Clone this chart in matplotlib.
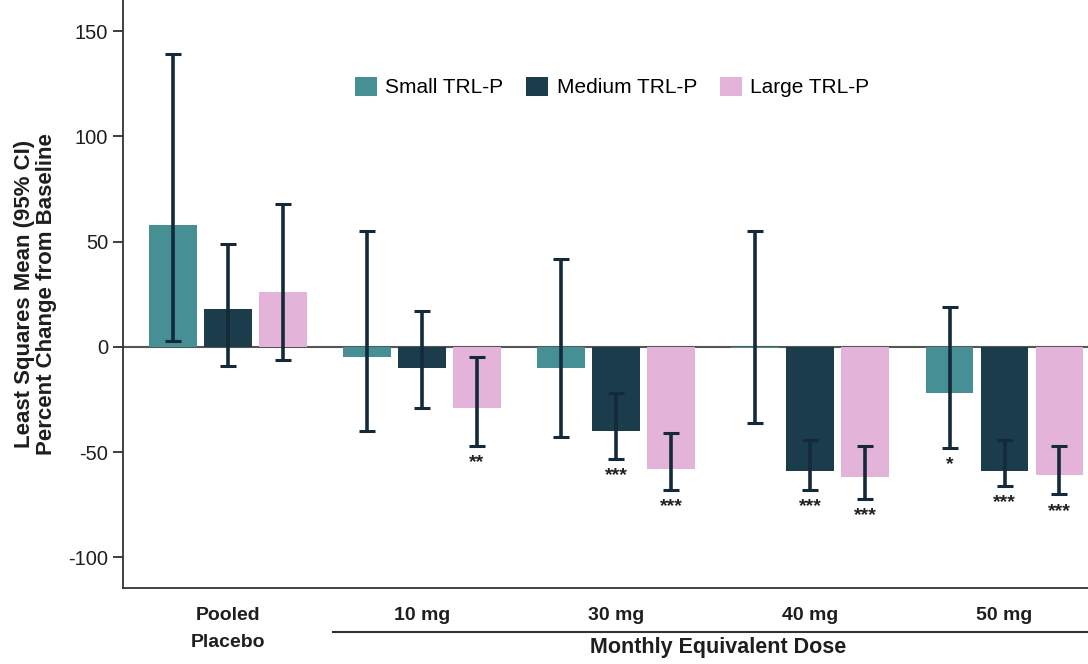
import matplotlib.pyplot as plt
import numpy as np

plt.rcParams['font.family'] = ['Liberation Sans', 'DejaVu Sans']
plt.rcParams['axes.unicode_minus'] = False

groups = ["Pooled\nPlacebo", "10 mg", "30 mg", "40 mg", "50 mg"]
series = ["Small TRL-P", "Medium TRL-P", "Large TRL-P"]
colors = ["#468f94", "#1b3c4b", "#e3b3d9"]

# least squares mean % change, with 95% CI bounds
small_mean = [58, -5, -10, -0.5, -22]
small_lo = [3, -40, -43, -36, -48]
small_hi = [139, 55, 42, 55, 19]

medium_mean = [18, -10, -40, -59, -59]
medium_lo = [-9, -29, -53, -68, -66]
medium_hi = [49, 17, -22, -44, -44]

large_mean = [26, -29, -58, -62, -61]
large_lo = [-6, -47, -68, -72, -70]
large_hi = [68, -5, -41, -47, -47]

small_sig = ["", "", "", "", "*"]
medium_sig = ["", "", "***", "***", "***"]
large_sig = ["", "**", "***", "***", "***"]

means = [small_mean, medium_mean, large_mean]
lows = [small_lo, medium_lo, large_lo]
highs = [small_hi, medium_hi, large_hi]
sigs = [small_sig, medium_sig, large_sig]

fig = plt.figure(figsize=(10.88, 6.64), dpi=100)
ax = fig.add_axes([0.113, 0.1145, 0.887, 0.8855])

x = np.arange(len(groups))
offset = 0.283
width = 0.246
ink = "#14293a"
txt = "#1e1e1e"

ax.axhline(0, color="#555555", lw=1.5, zorder=1)

for i in range(3):
    xs = x + (i - 1) * offset
    m = np.array(means[i], dtype=float)
    lo = np.array(lows[i], dtype=float)
    hi = np.array(highs[i], dtype=float)
    ax.bar(xs, m, width, color=colors[i], label=series[i], zorder=2)
    ax.errorbar(xs, m, yerr=[m - lo, hi - m], fmt="none", ecolor=ink,
                elinewidth=2.6, capsize=6, capthick=2.2, zorder=3)
    for xx, l, s in zip(xs, lo, sigs[i]):
        if s:
            ax.annotate(s, (xx, l), xytext=(0, -6), textcoords="offset points",
                        ha="center", va="top", fontsize=14, fontweight="bold",
                        color="#222222")

ax.set_xlim(-0.54, 4.43)
ax.set_ylim(-114.5, 164.8)
ax.set_yticks([-100, -50, 0, 50, 100, 150])
ax.tick_params(axis="y", labelsize=14.5, length=7, width=1.2, colors=txt)
ax.tick_params(axis="x", length=0, pad=14)
ax.set_xticks(x)
ax.set_xticklabels(groups, fontsize=14, fontweight="bold", color=txt,
                   linespacing=1.7)
for lab in ax.get_xticklabels():
    lab.set_va("top")

for side in ["top", "right"]:
    ax.spines[side].set_visible(False)
for side in ["left", "bottom"]:
    ax.spines[side].set_linewidth(1.3)
    ax.spines[side].set_color("#333333")

ax.set_ylabel("Least Squares Mean (95% CI)\nPercent Change from Baseline",
              fontsize=16, fontweight="bold", color=txt, labelpad=8,
              linespacing=1.1)

# bracket under the active-dose groups
fig.add_artist(plt.Line2D([333 / 1088, 1.0], [1 - 632 / 664, 1 - 632 / 664],
                          color="#333333", lw=1.5))
fig.text(718 / 1088, 1 - 648 / 664, "Monthly Equivalent Dose", ha="center",
         va="center", fontsize=15.5, fontweight="bold", color=txt)

ax.legend(loc="center", bbox_to_anchor=(0.507, 0.852), ncol=3,
          frameon=False, fontsize=15, handlelength=1.05, handleheight=1.05,
          columnspacing=1.1, handletextpad=0.4)

fig.savefig("out.png", dpi=100)
